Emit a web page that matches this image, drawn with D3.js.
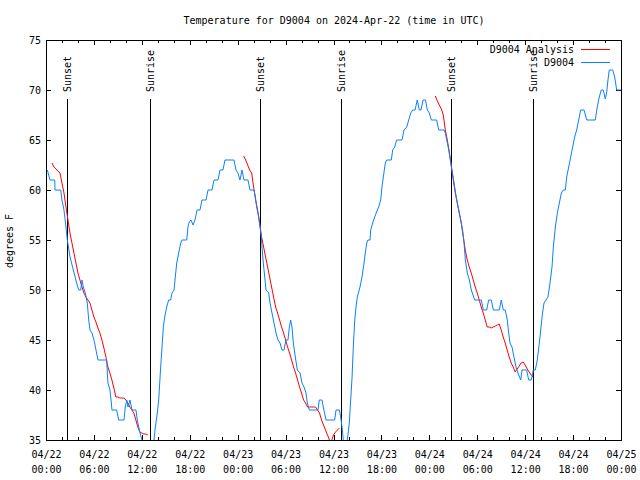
<!DOCTYPE html>
<html><head><meta charset="utf-8">
<script src="https://cdn.jsdelivr.net/npm/d3@7"></script>
<style>
body{margin:0;background:#fff;}
svg{display:block;}
text{font-family:"DejaVu Sans Mono",monospace;font-size:10px;fill:#000;}
</style></head>
<body><svg id="c" width="640" height="480"></svg>
<script>
// ---- data (hours after 2024-04-22 00:00 UTC, temperature °F) ----
const title = "Temperature for D9004 on 2024-Apr-22 (time in UTC)";
const yLabel = "degrees F";
const seriesNames = ["D9004 Analysis", "D9004"];
const yTicks = [35, 40, 45, 50, 55, 60, 65, 70, 75];
const sunEventHours = [2.75, 13.05, 26.8, 37.0, 50.8, 61.0];
const sunEventLabels = ["Sunset", "Sunrise", "Sunset", "Sunrise", "Sunset", "Sunrise"];

const obsHours = [0.17,0.50,1.09,1.13,1.84,2.00,2.25,2.50,2.67,3.01,3.42,3.84,4.09,4.35,4.51,4.67,4.92,5.17,5.35,5.51,5.76,6.01,6.26,6.51,7.60,7.68,7.76,8.01,8.18,8.26,8.85,9.10,9.77,9.93,10.11,10.27,10.52,10.77,11.27,11.43,11.61,11.77,12.02,12.27,13.27,13.52,13.69,13.94,14.11,14.36,14.53,14.69,14.86,15.11,15.36,15.61,15.78,16.03,16.19,16.37,16.62,16.87,17.03,17.62,17.78,17.94,18.16,18.41,18.66,18.91,19.28,19.53,20.04,20.29,20.79,21.04,21.54,21.79,22.16,22.41,23.54,23.79,24.04,24.29,24.54,24.79,25.29,25.54,26.05,26.21,26.38,26.63,26.80,26.96,27.05,27.21,27.39,27.55,27.89,28.05,28.30,28.55,28.80,29.05,29.30,29.55,29.80,30.05,30.30,30.47,30.64,30.80,30.97,31.22,31.47,31.81,32.06,32.31,32.56,32.72,32.97,34.06,34.22,34.56,34.72,35.06,36.15,36.32,36.73,36.90,37.07,37.23,37.44,37.73,37.98,38.15,38.32,38.48,38.66,38.82,38.98,39.32,39.57,39.82,39.98,40.16,40.32,40.57,40.66,40.91,41.16,41.49,41.66,41.91,42.07,42.24,42.49,42.66,43.24,43.41,43.66,43.91,44.58,44.83,45.17,45.42,45.67,45.92,46.21,46.49,46.74,46.96,47.21,47.52,47.75,48.00,48.25,48.92,49.17,49.84,50.00,50.18,50.43,50.59,50.75,51.00,51.25,51.43,51.68,51.93,52.18,52.34,52.51,52.76,53.01,53.26,53.68,54.51,54.76,55.18,55.43,55.76,56.01,56.76,57.01,57.26,57.51,57.76,57.94,58.10,58.35,58.60,58.85,59.10,59.44,59.61,60.19,60.44,60.77,61.02,61.27,61.52,61.86,62.11,62.36,62.61,62.86,63.11,63.36,63.53,63.78,64.03,64.28,64.53,64.78,65.03,65.20,65.45,65.70,65.95,66.20,66.45,66.70,66.95,67.37,67.71,68.78,69.03,69.28,69.53,69.78,70.03,70.20,70.37,70.53,70.96,71.21,71.46,71.87,72.0];
const obsTemps = [62,61,61,60,60,59,58,56.3,55,53.3,52,50.7,50,50,51,50.3,49.7,48.7,47,46,45.7,45,44,43,43,41.7,40.7,40,38.7,38,38,37,37,38.3,39,38.3,39,38,38,37,36.3,35.7,35,34,33.5,35,36.3,37.7,39,42.3,44.3,46.3,47.3,48.3,49,49,49.7,50,51.3,52.7,53.7,54.7,55,55,56.3,56.8,57,56.5,57,58,58,59,59,60,60,61,61,62,62,63,63,62,61.7,61,62,61,61,60,60,59.3,58.3,57.3,56.3,55.3,54.3,52.7,51.3,50,49.7,48.7,47.7,46.7,45.7,45,44.7,44,44,45,45,46.3,47,46.3,44.7,43.3,42,41.7,40.7,40.3,39.7,38.7,38,38,39,39,38.3,37,37,38,38,37.3,36.3,35,34,35,36.7,39,41.2,44.3,47,48.3,49.3,50.3,51.3,52.7,53.7,54.7,55,55,56,56.7,57.3,58,58.3,59,60.3,61.3,62.7,63,63,64,64.3,65,65,66,66.3,67,67.7,68,68,69,68,68,69,69,68,67.7,67,67,66,66,65.7,65,64,63.2,62.3,61.2,59.9,59,58,57,55.9,54.8,53,51.7,51,50,49,49,48,48,49,49,48,48,49,48,48,47,45.7,44.7,44.3,43.3,42.3,41.7,41,42,42,41,41,42,42,43,45.3,47.3,48.7,49,49.3,50.7,52.3,54.3,56.3,57.7,58.7,59.7,60,60,61.3,62.3,63.3,64.3,65.3,66,67,68,68,67,67,68.3,69.3,70,70,69.1,69.7,71,72,72,71.3,70,70,70];

// analysis: 15-minute values, one array per night, with their start hours
const anaStartHours = [0.75, 24.75, 48.75];
const ana1 = [62.7,62.3,62.1,61.9,61.7,60.7,59.7,58.3,57.0,55.7,54.7,53.7,52.7,51.7,51.0,50.3,49.7,49.3,49.0,48.7,48.0,47.3,46.8,46.2,45.7,45.0,44.2,43.3,42.3,41.7,41.0,40.2,39.3,39.3,39.2,39.2,39.2,39.0,38.7,38.3,38.0,37.7,37.0,36.3,35.8,35.7,35.6,35.6,35.5];
const ana2 = [63.4,63.0,62.5,62.0,61.7,60.3,59.0,58.0,56.7,55.3,54.3,53.3,52.3,51.3,50.3,49.3,48.3,47.7,47.0,46.3,45.7,45.0,44.3,43.7,43.0,42.3,41.7,41.0,40.3,39.7,39.0,38.7,38.3,38.3,38.3,38.3,38.3,38.0,37.7,37.0,36.5,36.0,35.5,35.0,34.9,35.5,35.8,36.0,36.2];
const ana3 = [69.4,68.9,68.5,68.1,67.5,66.0,65.0,63.8,62.5,61.0,59.7,58.7,57.7,56.7,55.3,54.0,53.0,52.3,51.7,51.0,50.3,49.7,49.0,48.3,47.7,47.0,46.3,46.3,46.2,46.3,46.4,46.5,46.6,46.0,45.3,44.7,44.0,43.3,42.7,42.3,41.8,42.1,42.4,42.7,42.8,42.5,42.1,41.8,41.5,41.3];

// ---- drawing ----
const base = Date.UTC(2024, 3, 22);
const toDate = h => new Date(base + h * 3600e3);
const L = 46, R = 621, T = 40, B = 440;
const svg = d3.select("#c");

const x = d3.scaleUtc().domain([toDate(0), toDate(72)]).range([L, R]);
const y = d3.scaleLinear().domain([35, 75]).range([B, T]);

svg.append("defs").append("clipPath").attr("id","clip")
  .append("rect").attr("x", L).attr("y", T).attr("width", R - L).attr("height", B - T);

// title
svg.append("text").attr("x", 334).attr("y", 24).attr("text-anchor","middle").text(title);
// y label
svg.append("text").attr("transform","translate(13,241) rotate(-90)")
  .attr("text-anchor","middle").text(yLabel);

const majorX = d3.range(0, 73, 6).map(toDate);
const minorX = d3.range(0, 73, 2).filter(h => h % 6 !== 0).map(toDate);
const fmtD = d3.utcFormat("%m/%d"), fmtH = d3.utcFormat("%H:%M");

// bottom axis (major, with labels)
const gB = svg.append("g").attr("transform", `translate(0,${B})`)
  .call(d3.axisBottom(x).tickValues(majorX).tickSizeInner(-5).tickSizeOuter(0).tickPadding(11).tickFormat(() => ""));
gB.selectAll(".tick text").each(function(d){
  const t = d3.select(this);
  t.append("tspan").attr("x",0).attr("dy","0.71em").text(fmtD(d));
  t.append("tspan").attr("x",0).attr("dy","1.5em").text(fmtH(d));
});
svg.append("g").attr("transform", `translate(0,${B})`)
  .call(d3.axisBottom(x).tickValues(minorX).tickSizeInner(-3).tickSizeOuter(0).tickFormat(() => ""));
// top axis
svg.append("g").attr("transform", `translate(0,${T})`)
  .call(d3.axisTop(x).tickValues(majorX).tickSizeInner(-5).tickSizeOuter(0).tickFormat(() => ""));
svg.append("g").attr("transform", `translate(0,${T})`)
  .call(d3.axisTop(x).tickValues(minorX).tickSizeInner(-3).tickSizeOuter(0).tickFormat(() => ""));
// left / right axes
svg.append("g").attr("transform", `translate(${L},0)`)
  .call(d3.axisLeft(y).tickValues(yTicks).tickSizeInner(-5).tickSizeOuter(0).tickPadding(5).tickFormat(d3.format("d")));
svg.append("g").attr("transform", `translate(${R},0)`)
  .call(d3.axisRight(y).tickValues(yTicks).tickSizeInner(-5).tickSizeOuter(0).tickFormat(() => ""));

svg.selectAll(".domain").remove();
svg.selectAll(".tick line").attr("stroke","#000").attr("shape-rendering","crispEdges");
svg.selectAll(".tick text").attr("font-family","DejaVu Sans Mono, monospace").attr("font-size",10).attr("fill","#000");

// frame
svg.append("rect").attr("x", L).attr("y", T).attr("width", R - L).attr("height", B - T)
  .attr("fill","none").attr("stroke","#000").attr("shape-rendering","crispEdges");

// sunrise / sunset markers
const sun = svg.append("g");
sunEventHours.forEach((h, i) => {
  const xx = x(toDate(h));
  sun.append("line").attr("x1", xx).attr("x2", xx).attr("y1", 99).attr("y2", B)
    .attr("stroke","#000").attr("shape-rendering","crispEdges");
  sun.append("text").attr("transform", `translate(${xx},92) rotate(-90)`)
    .attr("dy","0.35em").attr("text-anchor","start").text(sunEventLabels[i]);
});

const line = d3.line().x(d => x(toDate(d[0]))).y(d => y(d[1]));
const plot = svg.append("g").attr("clip-path","url(#clip)");

[ana1, ana2, ana3].forEach((vals, k) => {
  const pts = vals.map((v, i) => [anaStartHours[k] + i * 0.25, v]);
  plot.append("path").attr("d", line(pts)).attr("fill","none")
    .attr("stroke","#ff0000").attr("stroke-width",1);
});
const obs = obsHours.map((h, i) => [h, obsTemps[i]]);
plot.append("path").attr("d", line(obs)).attr("fill","none")
  .attr("stroke","#0a80ff").attr("stroke-width",1);

// legend
const leg = svg.append("g");
[["#ff0000", 49], ["#0a80ff", 62]].forEach(([c, yy], i) => {
  leg.append("text").attr("x", 574).attr("y", yy).attr("dy","0.35em")
    .attr("text-anchor","end").text(seriesNames[i]);
  leg.append("line").attr("x1", 581).attr("x2", 610).attr("y1", yy).attr("y2", yy)
    .attr("stroke", c).attr("stroke-width",1).attr("shape-rendering","crispEdges");
});
</script></body></html>
